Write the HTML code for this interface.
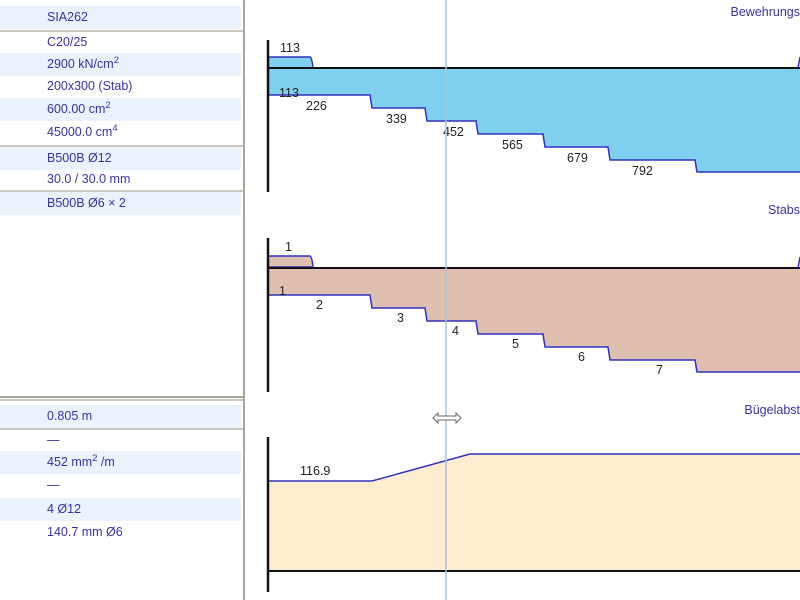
<!DOCTYPE html>
<html><head><meta charset="utf-8"><style>
body{margin:0;width:800px;height:600px;overflow:hidden;background:#fff;font-family:"Liberation Sans",sans-serif;}
.r{position:absolute;left:0;width:241px;height:23px;font-size:12.5px;color:#3a30a8;line-height:23px;}
.r span{position:absolute;left:47px;}
.s{background:#eaf3fb;}
.ln{position:absolute;left:0;width:243px;height:2px;background:#c8c8c0;}
sup{font-size:9.5px;line-height:0;vertical-align:5px;}
</style></head><body>
<div style="position:absolute;left:243px;top:0;width:2px;height:600px;background:#a8a898"></div>
<div class="r s" style="top:6px"><span>SIA262</span></div>
<div class="ln" style="top:30px"></div>
<div class="r" style="top:31px"><span>C20/25</span></div>
<div class="r s" style="top:53px"><span>2900 kN/cm<sup>2</sup></span></div>
<div class="r" style="top:75px"><span>200x300 (Stab)</span></div>
<div class="r s" style="top:98px"><span>600.00 cm<sup>2</sup></span></div>
<div class="r" style="top:121px"><span>45000.0 cm<sup>4</sup></span></div>
<div class="ln" style="top:145px"></div>
<div class="r s" style="top:147px"><span>B500B Ø12</span></div>
<div class="r" style="top:168px"><span>30.0 / 30.0 mm</span></div>
<div class="ln" style="top:190px"></div>
<div class="r s" style="top:192px"><span>B500B Ø6 × 2</span></div>
<div class="ln" style="top:396px;background:#a8a898"></div>
<div class="ln" style="top:399px"></div>
<div class="r s" style="top:405px"><span>0.805 m</span></div>
<div class="ln" style="top:428px"></div>
<div class="r" style="top:429px"><span>—</span></div>
<div class="r s" style="top:451px"><span>452 mm<sup>2</sup> /m</span></div>
<div class="r" style="top:474px"><span>—</span></div>
<div class="r s" style="top:498px"><span>4 Ø12</span></div>
<div class="r" style="top:521px"><span>140.7 mm Ø6</span></div>
<svg width="800" height="600" style="position:absolute;left:0;top:0" font-family="Liberation Sans, sans-serif" font-size="12.5">
<g fill="#3a30a8" text-anchor="end"><text x="800" y="16">Bewehrungs</text><text x="800" y="214">Stabs</text><text x="800" y="414">Bügelabst</text></g>
<path d="M268,57 H310 Q312,58 313,68 H268Z" fill="#7fd0ee" stroke="#3030c0" stroke-width="1.5"/>
<path d="M268,68 H800 V172 H697 L695,160 H610 L608,147 H545 L543,134 H478 L476,121 H427 L425,108 H372 L370,95 H268Z" fill="#7fd0ee"/>
<path d="M268,95 H370 L372,108 H425 L427,121 H476 L478,134 H543 L545,147 H608 L610,160 H695 L697,172 H800" fill="none" stroke="#3030c0" stroke-width="1.5"/>
<line x1="268" y1="68" x2="800" y2="68" stroke="#111" stroke-width="2"/>
<path d="M798,68 L800,57" stroke="#3030c0" stroke-width="1.5"/>
<line x1="268" y1="40" x2="268" y2="192" stroke="#111" stroke-width="2.5"/>
<g fill="#222"><text x="280" y="52">113</text><text x="279" y="97">113</text><text x="306" y="110">226</text><text x="386" y="123">339</text><text x="443" y="136">452</text><text x="502" y="149">565</text><text x="567" y="162">679</text><text x="632" y="175">792</text></g>
<path d="M268,256 H310 Q312,257 313,267 H268Z" fill="#dfc0b0" stroke="#3030c0" stroke-width="1.5"/>
<path d="M268,268 H800 V372 H697 L695,360 H610 L608,347 H545 L543,334 H478 L476,321 H427 L425,308 H372 L370,295 H268Z" fill="#dfc0b0"/>
<path d="M268,295 H370 L372,308 H425 L427,321 H476 L478,334 H543 L545,347 H608 L610,360 H695 L697,372 H800" fill="none" stroke="#3030c0" stroke-width="1.5"/>
<line x1="268" y1="268" x2="800" y2="268" stroke="#111" stroke-width="2"/>
<path d="M798,268 L800,257" stroke="#3030c0" stroke-width="1.5"/>
<line x1="268" y1="238" x2="268" y2="392" stroke="#111" stroke-width="2.5"/>
<g fill="#222"><text x="285" y="251">1</text><text x="279" y="295">1</text><text x="316" y="309">2</text><text x="397" y="322">3</text><text x="452" y="335">4</text><text x="512" y="348">5</text><text x="578" y="361">6</text><text x="656" y="374">7</text></g>
<path d="M268,481 H372 L470,454 H800 V571 H268Z" fill="#fdecd0"/>
<path d="M268,571 V481 H372 L470,454 H800" fill="none" stroke="#3030c0" stroke-width="1.5"/>
<line x1="268" y1="571" x2="800" y2="571" stroke="#111" stroke-width="2"/>
<line x1="268" y1="437" x2="268" y2="592" stroke="#111" stroke-width="2.5"/>
<text x="300" y="475" fill="#222">116.9</text>
<line x1="446" y1="0" x2="446" y2="600" stroke="#a8c4dc" stroke-width="1.5"/>
<path d="M433,418 L438,413 V416 H456 V413 L461,418 L456,423 V420 H438 V423Z" fill="#fff" stroke="#666" stroke-width="1"/>
</svg>
</body></html>
